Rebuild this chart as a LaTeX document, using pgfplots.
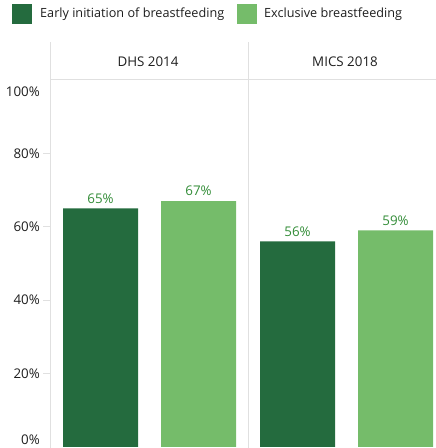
\documentclass[border=0pt]{standalone}
\usepackage{pgfplots}
\pgfplotsset{compat=1.18}
\usepackage{fontspec}
\setmainfont{Open Sans}
\definecolor{darkg}{RGB}{36,107,62}
\definecolor{lightg}{RGB}{117,188,106}
\definecolor{labg}{RGB}{50,140,55}
\definecolor{gridc}{RGB}{224,224,224}
\definecolor{txt}{RGB}{30,30,30}
\newcommand\fs{\fontsize{13.4}{15}\selectfont}
\newcommand\fl{\fontsize{12.7}{14}\selectfont}
\begin{document}
\begin{tikzpicture}[x=1bp,y=1bp]
\useasboundingbox (0,0) rectangle (436,448);
% legend
\fill[darkg] (12,424) rectangle (32,444);
\node[anchor=west,inner sep=0,font=\fl,text=txt] at (40,434) {Early initiation of breastfeeding};
\fill[lightg] (237,424) rectangle (257,444);
\node[anchor=west,inner sep=0,font=\fl,text=txt] at (264,434) {Exclusive breastfeeding};
% header
\draw[gridc,line width=1bp] (50,406) -- (50,0);
\draw[gridc,line width=1bp] (248,406) -- (248,0);
\draw[gridc,line width=1bp] (50,368) -- (436,368);
\node[font=\fs,text=txt] at (148,386) {DHS 2014};
\node[font=\fs,text=txt] at (345,386) {MICS 2018};
\begin{axis}[
  at={(50bp,1bp)}, anchor=south west,
  scale only axis, width=386bp, height=367bp,
  xmin=50, xmax=436, ymin=0, ymax=100,
  axis line style={draw=none},
  xtick=\empty,
  ytick={20,40,60,80},
  yticklabel={\pgfmathprintnumber{\tick}\%},
  yticklabel style={font=\fs, text=txt, inner sep=0pt, xshift=-3bp},
  /pgf/number format/assume math mode=true,
  tick align=outside, ytick pos=left,
  major tick length=7bp,
  tick style={gridc, line width=0.8bp},
  clip=false,
  nodes near coords={\pgfmathprintnumber{\pgfplotspointmeta}\%},
  every node near coord/.append style={anchor=center, yshift=10bp, text=labg, font=\fs, /pgf/number format/assume math mode=true},
]
\addplot[ybar, bar width=75, bar shift=0pt, fill=darkg, draw=none] coordinates {(100.5,65) (297.5,56)};
\addplot[ybar, bar width=75, bar shift=0pt, fill=lightg, draw=none] coordinates {(198.5,67) (395.5,59)};
\end{axis}
\node[anchor=east,inner sep=0,font=\fs,text=txt] at (40,356) {100\%};
\node[anchor=east,inner sep=0,font=\fs,text=txt] at (40,8) {0\%};
\end{tikzpicture}
\end{document}
